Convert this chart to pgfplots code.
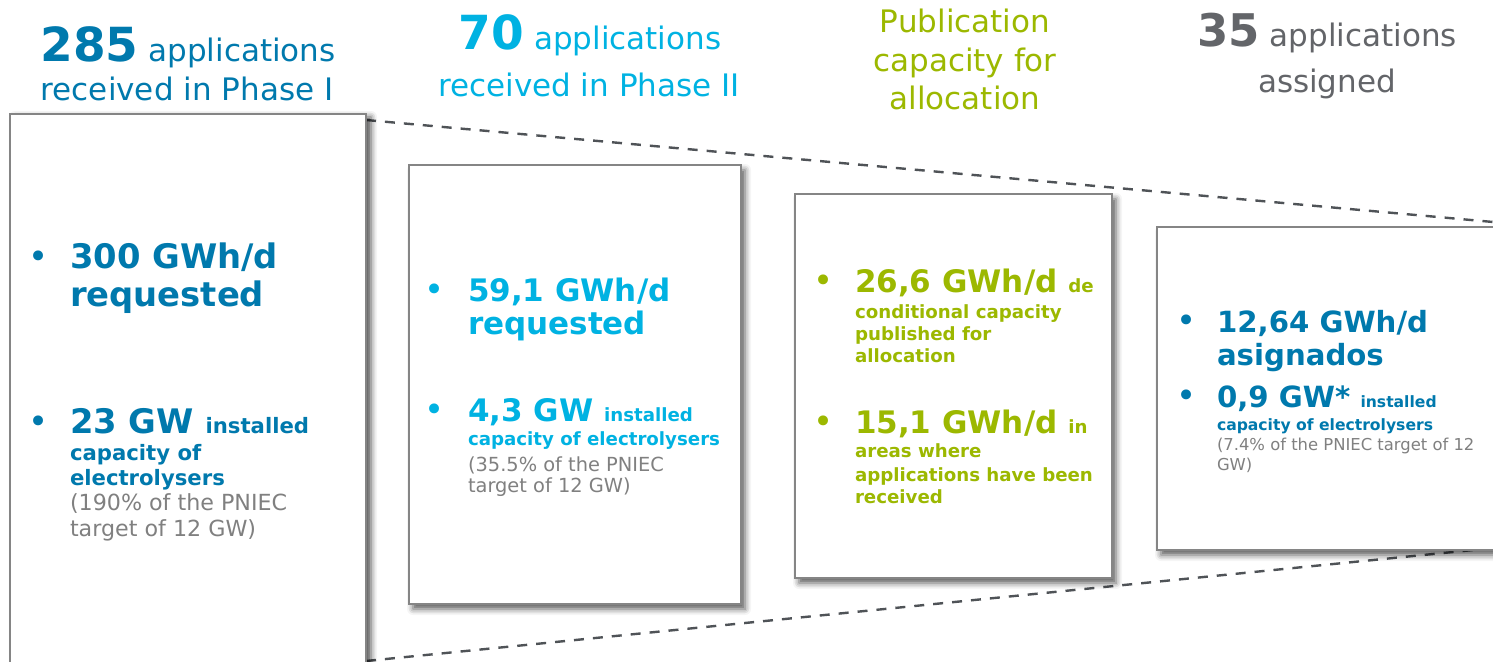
\documentclass[border=0pt]{standalone}
\usepackage{pgfplots}
\pgfplotsset{compat=1.18}
\usepackage{fontspec}
\setmainfont{DejaVu Sans}
\usetikzlibrary{shadows.blur}
\definecolor{dblue}{HTML}{0079AD}
\definecolor{lblue}{HTML}{00B2E2}
\definecolor{lgreen}{HTML}{9CB800}
\definecolor{tgray}{HTML}{636569}
\definecolor{pgray}{HTML}{808080}
\definecolor{bgray}{HTML}{858585}
\definecolor{dgray}{HTML}{4F5357}
\newcommand{\fs}[1]{\fontsize{#1}{#1}\selectfont}
\tikzset{
  tx/.style={inner sep=0pt, outer sep=0pt, anchor=base west},
  tc/.style={inner sep=0pt, outer sep=0pt, anchor=base},
  bl/.style={inner sep=0pt, outer sep=0pt, anchor=base west, font=\fs{17}},
}
\begin{document}
\begin{tikzpicture}
\begin{axis}[
  scale only axis, width=746.5pt, height=331pt,
  xmin=0, xmax=1493, ymin=0, ymax=662, y dir=reverse,
  hide axis, clip=true,
]
% dashed funnel lines
\addplot[dgray, line width=1.2pt, dash pattern=on 5pt off 4.5pt] coordinates {(366,120) (1493,222)};
\addplot[dgray, line width=1.2pt, dash pattern=on 5pt off 4.5pt] coordinates {(366,661) (1493,548)};
% boxes
\addplot[draw=bgray, line width=0.9pt, fill=white,
  blur shadow={shadow xshift=2.5pt, shadow yshift=-1.5pt, shadow blur radius=3pt, shadow opacity=70}]
  coordinates {(10,114) (366,114) (366,700) (10,700)} -- cycle;
\addplot[draw=bgray, line width=0.9pt, fill=white,
  blur shadow={shadow xshift=2pt, shadow yshift=-2.5pt, shadow blur radius=3pt, shadow opacity=65}]
  coordinates {(409,165) (741,165) (741,604) (409,604)} -- cycle;
\addplot[draw=bgray, line width=0.9pt, fill=white,
  blur shadow={shadow xshift=2pt, shadow yshift=-2.5pt, shadow blur radius=3pt, shadow opacity=65}]
  coordinates {(795,194) (1112,194) (1112,578) (795,578)} -- cycle;
\addplot[draw=bgray, line width=0.9pt, fill=white,
  blur shadow={shadow xshift=2pt, shadow yshift=-2.5pt, shadow blur radius=3pt, shadow opacity=65}]
  coordinates {(1157,227) (1530,227) (1530,550) (1157,550)} -- cycle;

% titles
\node[tc, text=dblue] at (axis cs:188,62) {\fs{23.5}\bfseries 285\fs{15.5}\mdseries\ applications};
\node[tc, text=dblue] at (axis cs:187,101) {\fs{15.5}received in Phase I};
\node[tc, text=lblue] at (axis cs:590,50) {\fs{23.5}\bfseries 70\fs{15.5}\mdseries\ applications};
\node[tc, text=lblue] at (axis cs:589,97) {\fs{15.5}received in Phase II};
\node[tc, text=lgreen] at (axis cs:965,33) {\fs{15.5}Publication};
\node[tc, text=lgreen] at (axis cs:965,72) {\fs{15.5}capacity for};
\node[tc, text=lgreen] at (axis cs:965,110) {\fs{15.5}allocation};
\node[tc, text=tgray] at (axis cs:1327,47) {\fs{22.5}\bfseries 35\fs{15.5}\mdseries\ applications};
\node[tc, text=tgray] at (axis cs:1327,93) {\fs{15.5}assigned};

% box 1
\node[bl, text=dblue] at (axis cs:28,269) {•};
\node[tx, text=dblue] at (axis cs:70,269) {\fs{16.9}\bfseries 300 GWh/d};
\node[tx, text=dblue] at (axis cs:70,307) {\fs{16.9}\bfseries requested};
\node[bl, text=dblue] at (axis cs:28,433) {•};
\node[tx, text=dblue] at (axis cs:70,433) {\bfseries\fs{16.9}23 GW \fs{10.6}installed};
\node[tx, text=dblue] at (axis cs:70,460) {\bfseries\fs{10.6}capacity of};
\node[tx, text=dblue] at (axis cs:70,485) {\bfseries\fs{10.6}electrolysers};
\node[tx, text=pgray] at (axis cs:70,510) {\fs{11.1}(190\% of the PNIEC};
\node[tx, text=pgray] at (axis cs:70,536) {\fs{11.1}target of 12 GW)};

% box 2
\node[bl, text=lblue] at (axis cs:424,302) {•};
\node[tx, text=lblue] at (axis cs:468,302) {\fs{15.5}\bfseries 59,1 GWh/d};
\node[tx, text=lblue] at (axis cs:468,335) {\fs{15.5}\bfseries requested};
\node[bl, text=lblue] at (axis cs:424,422) {•};
\node[tx, text=lblue] at (axis cs:468,422) {\bfseries\fs{15.5}4,3 GW \fs{9.1}installed};
\node[tx, text=lblue] at (axis cs:468,445) {\bfseries\fs{9.1}capacity of electrolysers};
\node[tx, text=pgray] at (axis cs:468,471) {\fs{9.7}(35.5\% of the PNIEC};
\node[tx, text=pgray] at (axis cs:468,492) {\fs{9.7}target of 12 GW)};

% box 3
\node[bl, text=lgreen] at (axis cs:813,293) {•};
\node[tx, text=lgreen] at (axis cs:855,293) {\bfseries\fs{15.5}26,6 GWh/d \fs{9.1}de};
\node[tx, text=lgreen] at (axis cs:855,319) {\bfseries\fs{9.1}conditional capacity};
\node[tx, text=lgreen] at (axis cs:855,341) {\bfseries\fs{9.1}published for};
\node[tx, text=lgreen] at (axis cs:855,363) {\bfseries\fs{9.1}allocation};
\node[bl, text=lgreen] at (axis cs:813,433) {•};
\node[tx, text=lgreen] at (axis cs:855,433) {\bfseries\fs{15.5}15,1 GWh/d \fs{9.1}in};
\node[tx, text=lgreen] at (axis cs:855,458) {\bfseries\fs{9.1}areas where};
\node[tx, text=lgreen] at (axis cs:855,481) {\bfseries\fs{9.1}applications have been};
\node[tx, text=lgreen] at (axis cs:855,503) {\bfseries\fs{9.1}received};

% box 4
\node[bl, text=dblue] at (axis cs:1176,333) {•};
\node[tx, text=dblue] at (axis cs:1217,333) {\fs{14.6}\bfseries 12,64 GWh/d};
\node[tx, text=dblue] at (axis cs:1217,365) {\fs{14.6}\bfseries asignados};
\node[bl, text=dblue] at (axis cs:1176,408) {•};
\node[tx, text=dblue] at (axis cs:1217,408) {\bfseries\fs{14.6}0,9 GW* \fs{7.8}installed};
\node[tx, text=dblue] at (axis cs:1217,430) {\bfseries\fs{7.8}capacity of electrolysers};
\node[tx, text=pgray] at (axis cs:1217,451) {\fs{8.2}(7.4\% of the PNIEC target of 12};
\node[tx, text=pgray] at (axis cs:1217,470) {\fs{8.2}GW)};
\end{axis}
\pgfresetboundingbox
\useasboundingbox (0,0) rectangle (746.5pt,331pt);
\end{tikzpicture}
\end{document}
